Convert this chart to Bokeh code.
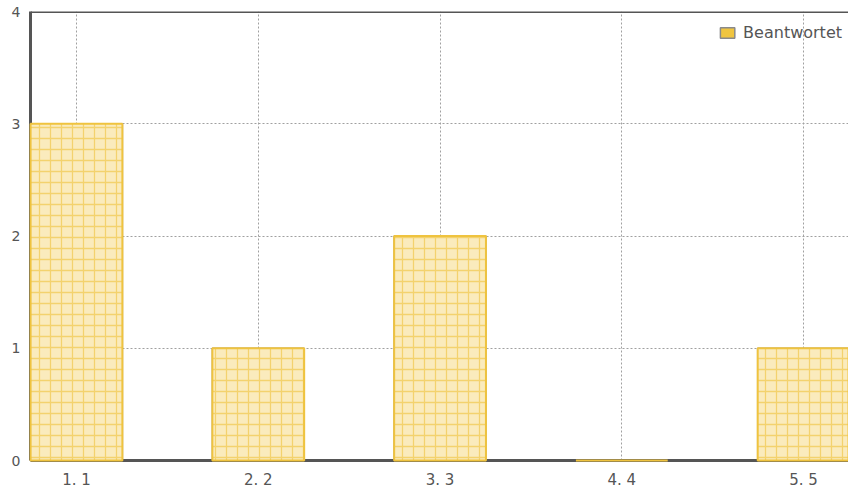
from bokeh.plotting import figure
from bokeh.models import ColumnDataSource, FixedTicker, Span, Range1d, Legend, LegendItem
from bokeh.embed import file_html
from bokeh.resources import INLINE

positions = [1, 2, 3, 4, 5]
labels = ["1. 1", "2. 2", "3. 3", "4. 4", "5. 5"]
values = [3, 1, 2, 0, 1]
series_name = "Beantwortet"
y_ticks = [0, 1, 2, 3, 4]

src = ColumnDataSource(dict(x=positions, top=values))

p = figure(width=848, height=492, output_backend="svg", toolbar_location=None,
           x_range=Range1d(0.747, 5.247), y_range=Range1d(0, 4),
           min_border_left=30, min_border_right=0, min_border_top=11, min_border_bottom=32)
p.outline_line_color = None
p.background_fill_color = "white"
p.border_fill_color = "white"

# solid-coloured copy underneath (hidden by the hatched bars) used for the legend swatch
proxy = p.vbar(x="x", top="top", bottom=0, width=0.505, source=src,
               fill_color="#f0c53f", line_color="#8a8a8a", line_width=1.5)

r = p.vbar(x="x", top="top", bottom=0, width=0.505, source=src,
           fill_color="#faebbd", line_color="#efc33f", line_width=2,
           hatch_pattern="+", hatch_color="#f3d26e", hatch_scale=11, hatch_weight=1.3,
           level="overlay")

p.xaxis.ticker = FixedTicker(ticks=positions)
p.xaxis.major_label_overrides = {pos: lab for pos, lab in zip(positions, labels)}
p.yaxis.ticker = FixedTicker(ticks=y_ticks)

for ax in (p.xaxis, p.yaxis):
    ax.axis_line_color = "#555555"
    ax.axis_line_width = 3
    ax.major_tick_line_color = None
    ax.minor_tick_line_color = None
    ax.major_tick_out = 0
    ax.major_tick_in = 0
    ax.minor_tick_out = 0
    ax.minor_tick_in = 0
    ax.major_label_text_font = "DejaVu Sans"
    ax.major_label_text_color = "#555555"
p.xaxis.major_label_text_font_size = "15px"
p.yaxis.major_label_text_font_size = "14px"
p.xaxis.major_label_standoff = 10
p.yaxis.major_label_standoff = 10

for g in (p.xgrid, p.ygrid):
    g.grid_line_color = "#a0a0a0"
    g.grid_line_dash = "2 2"
    g.grid_line_width = 1

p.add_layout(Span(location=4, dimension="width", line_color="#555555", line_width=3))

legend = Legend(items=[LegendItem(label=series_name, renderers=[proxy])], location="top_right",
                border_line_color=None, background_fill_alpha=0,
                label_text_font="DejaVu Sans", label_text_font_size="16px",
                label_text_color="#555555", glyph_width=18, glyph_height=13,
                label_height=30, margin=6, padding=3, spacing=0, label_standoff=7)
p.add_layout(legend)

open("out.html", "w").write(file_html(p, INLINE))
